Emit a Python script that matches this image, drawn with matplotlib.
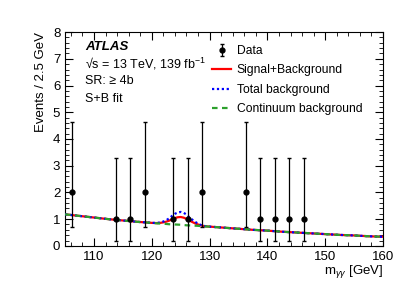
import matplotlib
matplotlib.use("Agg")
import matplotlib.pyplot as plt
from matplotlib.ticker import MultipleLocator

plt.rcParams['font.family'] = ['Liberation Sans', 'DejaVu Sans']
plt.rcParams['mathtext.fontset'] = 'custom'
plt.rcParams['mathtext.rm'] = 'Liberation Sans'
plt.rcParams['mathtext.it'] = 'Liberation Sans:italic'

# data points (bin centres, events) and poisson errors
data_x = [106.25, 113.75, 116.25, 118.75, 123.75, 126.25, 128.75, 136.25, 138.75, 141.25, 143.75, 146.25]
data_y = [2, 1, 1, 2, 1, 1, 2, 2, 1, 1, 1, 1]
err_lo = [1.29, 0.83, 0.83, 1.29, 0.83, 0.83, 1.29, 1.29, 0.83, 0.83, 0.83, 0.83]
err_hi = [2.64, 2.30, 2.30, 2.64, 2.30, 2.30, 2.64, 2.64, 2.30, 2.30, 2.30, 2.30]

# fitted curves
mgg = [105, 107.5, 110, 112.5, 115, 117.5, 120, 120.5, 121, 121.5, 122, 122.5, 123, 123.5,
       124, 124.5, 125, 125.5, 126, 126.5, 127, 127.5, 128, 128.5, 129, 129.5, 130,
       132.5, 135, 137.5, 140, 142.5, 145, 147.5, 150, 152.5, 155, 157.5, 160]
continuum = [1.18, 1.12, 1.06, 1.00, 0.95, 0.90, 0.86, 0.85, 0.84, 0.835, 0.83, 0.82, 0.81, 0.805,
             0.80, 0.795, 0.79, 0.78, 0.77, 0.765, 0.76, 0.755, 0.75, 0.74, 0.73, 0.725, 0.72,
             0.68, 0.64, 0.60, 0.57, 0.53, 0.50, 0.47, 0.44, 0.41, 0.39, 0.36, 0.34]
total_bkg = [1.18, 1.12, 1.06, 1.00, 0.95, 0.90, 0.86, 0.86, 0.86, 0.88, 0.91, 0.96, 1.03, 1.12,
             1.20, 1.25, 1.27, 1.24, 1.17, 1.07, 0.98, 0.90, 0.83, 0.78, 0.75, 0.73, 0.72,
             0.68, 0.64, 0.60, 0.57, 0.53, 0.50, 0.47, 0.44, 0.41, 0.39, 0.36, 0.34]
sig_bkg = [1.18, 1.12, 1.06, 1.00, 0.95, 0.90, 0.86, 0.855, 0.853, 0.862, 0.88, 0.906, 0.943, 0.992,
           1.04, 1.071, 1.08, 1.056, 1.009, 0.952, 0.893, 0.841, 0.80, 0.767, 0.743, 0.728, 0.72,
           0.68, 0.64, 0.60, 0.57, 0.53, 0.50, 0.47, 0.44, 0.41, 0.39, 0.36, 0.34]

fig = plt.figure(figsize=(4.07, 2.92), dpi=100)
ax = fig.add_axes([0.160, 0.158, 0.781, 0.732])

d = ax.errorbar(data_x, data_y, yerr=[err_lo, err_hi], fmt='o', color='black', ms=3.5,
                elinewidth=0.9, capsize=1.2, label='Data', zorder=5)
l1, = ax.plot(mgg, sig_bkg, color='red', lw=1.6, label='Signal+Background', zorder=2)
l2, = ax.plot(mgg, total_bkg, color='blue', lw=1.6, ls=(0, (1, 1.2)), label='Total background', zorder=3)
l3, = ax.plot(mgg, continuum, color='#2ca02c', lw=1.6, ls=(0, (2.5, 2)), label='Continuum background', zorder=4)

ax.set_xlim(105, 160)
ax.set_ylim(0, 8)
ax.xaxis.set_minor_locator(MultipleLocator(2))
ax.yaxis.set_major_locator(MultipleLocator(1))
ax.yaxis.set_minor_locator(MultipleLocator(0.2))
ax.set_xticks([110, 120, 130, 140, 150, 160])
ax.tick_params(which='both', direction='in', top=True, right=True, labelsize=9.5)
ax.tick_params(which='major', length=6)
ax.tick_params(which='minor', length=3)

ax.set_xlabel(r'm$_{\gamma\gamma}$ [GeV]', fontsize=9.5, loc='right', labelpad=0)
ax.set_ylabel('Events / 2.5 GeV', fontsize=9.5, loc='top')

ax.text(0.063, 0.93, 'ATLAS', transform=ax.transAxes, fontsize=9.5, fontweight='bold',
        style='italic', va='center')
ax.text(0.063, 0.852, '√s = 13 TeV, 139 fb$^{-1}$', transform=ax.transAxes, fontsize=9, va='center')
ax.text(0.063, 0.772, 'SR: ≥ 4b', transform=ax.transAxes, fontsize=9, va='center')
ax.text(0.063, 0.686, 'S+B fit', transform=ax.transAxes, fontsize=9, va='center')

ax.legend([d, l1, l2, l3], ['Data', 'Signal+Background', 'Total background', 'Continuum background'],
          loc='upper left', bbox_to_anchor=(0.462, 0.94), frameon=False, fontsize=8.7,
          handlelength=1.6, handletextpad=0.45, labelspacing=0.62, borderpad=0, borderaxespad=0)

fig.savefig('out.png', dpi=100)
